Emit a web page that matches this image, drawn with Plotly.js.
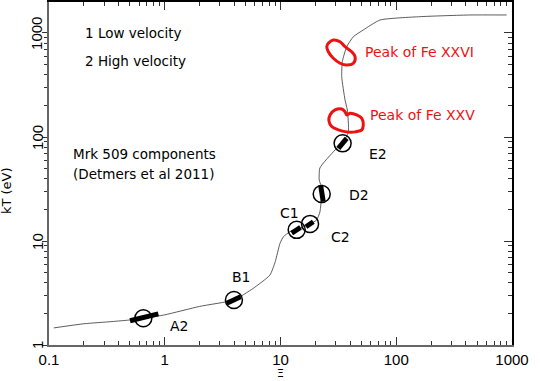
<!DOCTYPE html>
<html>
<head>
<meta charset="utf-8">
<script src="https://cdn.plot.ly/plotly-3.0.1.min.js"></script>
<style>
  html, body { margin: 0; padding: 0; background: #fff; }
  #chart { width: 540px; height: 381px; }
</style>
</head>
<body>
<div id="chart"></div>
<script>
// S-curve of the photoionised gas: ionisation parameter Xi vs temperature kT (eV)
var curveXi = [0.11, 0.2, 0.35, 0.5, 0.66, 1, 2.0, 3.96, 5.8, 8.1, 9.0, 9.9, 10.6, 12.1, 13.8, 16, 18.0, 20.5,
  21.9, 22.7, 22.4, 21.6, 21.9, 29.6, 34.4, 38.6, 37.8, 36.1, 33.8, 34.2, 37.3, 42.6, 51.9, 72.4, 160, 434, 900];
var curveKT = [1.46, 1.6, 1.68, 1.74, 1.81, 1.95, 2.35, 2.71, 3.5, 4.7, 6.3, 9.5, 11.0, 12.3, 12.8, 13.8, 14.6, 15.9,
  19, 28.3, 34, 38.6, 50.4, 75, 86.9, 112, 182, 227, 380, 530, 738, 921, 1069, 1333, 1435, 1490, 1490];

// Mrk 509 absorption components
var compNames = ['A2', 'B1', 'C1', 'C2', 'D2', 'E2'];
var compXi = [0.653, 3.96, 13.8, 18.0, 22.7, 34.4];
var compKT = [1.81, 2.71, 12.8, 14.6, 28.3, 86.9];
// error ranges drawn as thick bars (start / end)
var segXiLo = [0.501, 3.43, 12.5, 16.6, 22.2, 31.6];
var segKTLo = [1.71, 2.52, 11.9, 13.7, 34.5, 77.9];
var segXiHi = [0.880, 4.53, 14.9, 19.2, 23.4, 37.3];
var segKTHi = [1.99, 2.91, 13.5, 15.3, 23.9, 97.2];

// hand-drawn red loops around the ion peaks
var feXXVIXi = [25.9, 28.6, 32.7, 36.1, 41.2, 44.1, 42.6, 37.3, 32.7, 28.6, 25.9, 25.1, 25.9];
var feXXVIKT = [796, 857, 824, 738, 661, 592, 512, 492, 512, 571, 661, 738, 796];
var feXXVXi = [26.8, 29.6, 33.8, 36.1, 37.3, 39.8, 45.5, 50.4, 51.9, 50.4, 44.1, 37.3, 31.6, 27.7, 26.2, 26.8];
var feXXVKT = [163, 182, 186, 175, 163, 169, 163, 151, 130, 117, 112, 112, 117, 126, 143, 163];

// axis ticks
var xTicks = [0.1, 1, 10, 100, 1000];
var xTickText = ['0.1', '1', '10', '100', '1000'];
var yTicks = [1, 10, 100, 1000];
var yTickText = ['1', '10', '100', '1000'];

var segX = [], segY = [];
for (var i = 0; i < compNames.length; i++) {
  segX.push(segXiLo[i], segXiHi[i], null);
  segY.push(segKTLo[i], segKTHi[i], null);
}

var data = [
  {x: curveXi, y: curveKT, mode: 'lines', line: {color: '#333', width: 0.8, shape: 'spline', smoothing: 0.5}},
  {x: segX, y: segY, mode: 'lines', line: {color: '#000', width: 5}, connectgaps: false},
  {x: compXi, y: compKT, mode: 'markers', text: compNames,
   marker: {symbol: 'circle-open', size: 17, color: '#000', line: {width: 1.5}}},
  {x: feXXVIXi, y: feXXVIKT, mode: 'lines', line: {color: '#ee1111', width: 3, shape: 'spline'}},
  {x: feXXVXi, y: feXXVKT, mode: 'lines', line: {color: '#ee1111', width: 3, shape: 'spline'}},
  // empty trace so the mirror axes get a subplot
  {x: [], y: [], xaxis: 'x2', yaxis: 'y2', mode: 'markers'}
];

var tickFont = {family: 'Liberation Sans Narrow, Liberation Sans, Arial, sans-serif', size: 15, color: '#000'};
var txtFont = {family: 'DejaVu Sans, sans-serif', size: 13.5, color: '#000'};
var redFont = {family: 'DejaVu Sans, sans-serif', size: 14, color: '#ee1111'};
var lblFont = {family: 'DejaVu Sans, sans-serif', size: 14, color: '#000'};

function note(x, y, text, font) {
  return {x: x, y: y, xref: 'x', yref: 'y', text: text, showarrow: false,
          xanchor: 'left', yanchor: 'middle', font: font};
}

var annotations = [
  note(-0.706, 3.0, '1 Low velocity', txtFont),
  note(-0.706, 2.731, '2 High velocity', txtFont),
  note(-0.810, 1.837, 'Mrk 509 components', txtFont),
  note(-0.810, 1.644, '(Detmers et al 2011)', txtFont),
  note(1.710, 2.820, 'Peak of Fe XXVI', redFont),
  note(1.756, 2.212, 'Peak of Fe XXV', redFont),
  note(1.747, 1.832, 'E2', lblFont),
  note(1.572, 1.442, 'D2', lblFont),
  note(0.978, 1.269, 'C1', lblFont),
  note(1.419, 1.041, 'C2', lblFont),
  note(0.564, 0.654, 'B1', lblFont),
  note(0.0255, 0.183, 'A2', lblFont)
];
// vertical y tick labels
for (var k = 0; k < yTicks.length; k++) {
  annotations.push({x: -0.026, xref: 'paper', y: Math.log10(yTicks[k]), yref: 'y', text: yTickText[k],
    textangle: -90, showarrow: false, xanchor: 'center', yanchor: 'middle',
    font: {family: 'Liberation Sans Narrow, Liberation Sans, Arial, sans-serif', size: 15, color: '#000'}});
}
// axis titles
annotations.push({x: -0.092, xref: 'paper', y: 0.45, yref: 'paper', text: 'kT (eV)', textangle: -90,
  showarrow: false, xanchor: 'center', yanchor: 'middle',
  font: {family: 'DejaVu Sans, sans-serif', size: 13, color: '#000'}});
annotations.push({x: 0.5, xref: 'paper', y: -0.082, yref: 'paper', text: 'Ξ',
  showarrow: false, xanchor: 'center', yanchor: 'middle',
  font: {family: 'DejaVu Sans, sans-serif', size: 11, color: '#000'}});

var xRange = [-1, 3];
var yRange = [0, 3.298];

var layout = {
  width: 540, height: 381,
  margin: {l: 49, r: 28, t: 2, b: 36},
  paper_bgcolor: '#fff', plot_bgcolor: '#fff',
  showlegend: false,
  xaxis: {
    type: 'log', range: xRange, showgrid: false, zeroline: false,
    showline: true, linecolor: '#666', linewidth: 2,
    ticks: 'inside', ticklen: 8, tickwidth: 1, tickcolor: '#333',
    minor: {dtick: 'D1', ticks: 'inside', ticklen: 4, tickcolor: '#333', showgrid: false},
    tickfont: tickFont, tickvals: xTicks, ticktext: xTickText
  },
  yaxis: {
    type: 'log', range: yRange, showgrid: false, zeroline: false,
    showline: true, linecolor: '#666', linewidth: 2,
    ticks: 'outside', ticklen: 5, tickwidth: 1, tickcolor: '#333',
    minor: {dtick: 'D1', ticks: 'outside', ticklen: 3, tickcolor: '#333', showgrid: false},
    tickvals: yTicks, showticklabels: false
  },
  xaxis2: {
    type: 'log', range: xRange, overlaying: 'x', side: 'top', anchor: 'y',
    showgrid: false, zeroline: false, showticklabels: false,
    showline: true, linecolor: '#000', linewidth: 1.5,
    tickvals: xTicks, ticks: 'inside', ticklen: 8, tickcolor: '#333',
    minor: {dtick: 'D1', ticks: 'inside', ticklen: 4, tickcolor: '#333', showgrid: false}
  },
  yaxis2: {
    type: 'log', range: yRange, overlaying: 'y', side: 'right', anchor: 'x',
    showgrid: false, zeroline: false, showticklabels: false,
    showline: true, linecolor: '#000', linewidth: 1.5,
    tickvals: yTicks, ticks: 'inside', ticklen: 8, tickcolor: '#333',
    minor: {dtick: 'D1', ticks: 'inside', ticklen: 4, tickcolor: '#333', showgrid: false}
  },
  annotations: annotations
};

Plotly.newPlot('chart', data, layout, {displayModeBar: false});
</script>
</body>
</html>
